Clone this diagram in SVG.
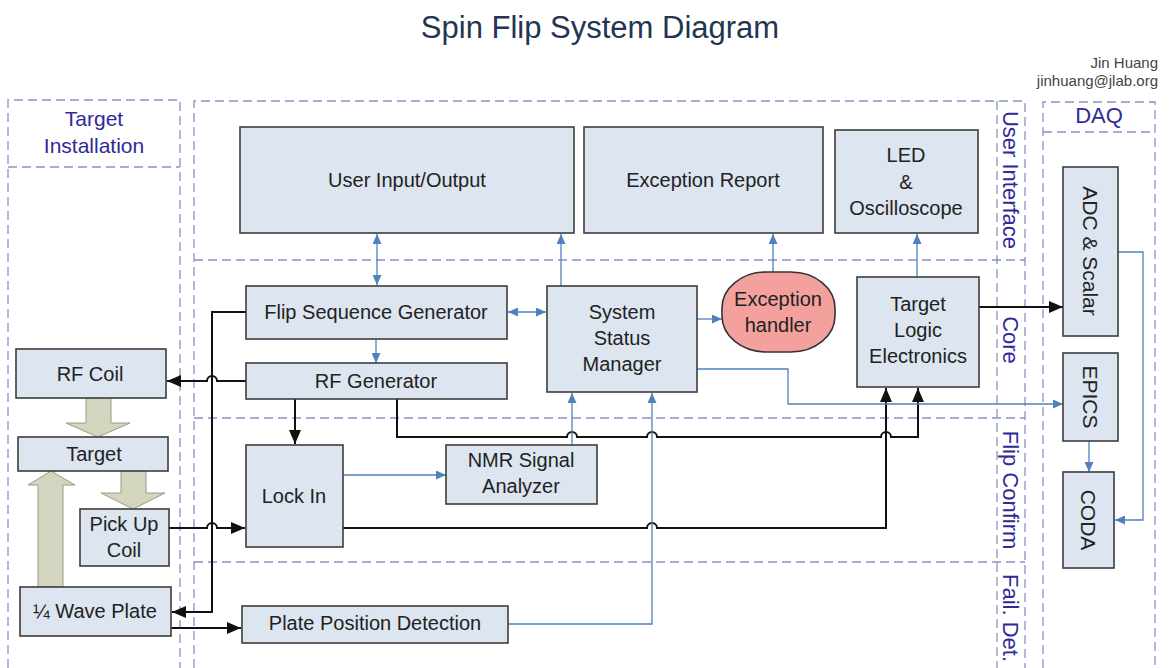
<svg xmlns="http://www.w3.org/2000/svg" width="1169" height="668" viewBox="0 0 1169 668">
<style>
text{font-family:"Liberation Sans",Arial,sans-serif;}
.t{font-size:20px;fill:#222;text-anchor:middle;}
.lbl{font-size:22px;fill:#2f2a9a;text-anchor:middle;}
.box{fill:#dde5f0;stroke:#3c3c3c;stroke-width:1.6;}
.dash{fill:none;stroke:#8594c2;stroke-width:1.3;stroke-dasharray:9 5;}
.blk{fill:none;stroke:#111;stroke-width:2;}
.blu{fill:none;stroke:#4f81bd;stroke-width:1.3;}
.big{fill:#d4d5bf;stroke:#9a9a8a;stroke-width:1;}
</style>
<defs>
<marker id="ab" markerUnits="userSpaceOnUse" markerWidth="16" markerHeight="12" refX="14" refY="6" orient="auto"><path d="M0,0 L14,6 L0,12 z" fill="#111"/></marker>
<marker id="bb" markerUnits="userSpaceOnUse" markerWidth="11" markerHeight="9" refX="10" refY="4.5" orient="auto-start-reverse"><path d="M0,0 L10,4.5 L0,9 z" fill="#4f81bd"/></marker>
</defs>
<rect width="1169" height="668" fill="#fff"/>
<g id="title">
<text x="600" y="38" style="font-size:31px;fill:#233552;text-anchor:middle">Spin Flip System Diagram</text>
<text x="1158" y="68" style="font-size:15px;fill:#444;text-anchor:end">Jin Huang</text>
<text x="1158" y="86" style="font-size:15px;fill:#444;text-anchor:end">jinhuang@jlab.org</text>
</g>
<g id="panels">
<path class="dash" d="M8,668 V100 H180 V668 M8,167 H180"/>
<path class="dash" d="M194,668 V101 H1025 V668 M997,101 V668 M194,260 H1025 M194,418 H1025 M194,562 H1025"/>
<path class="dash" d="M1043,668 V102 H1155 V668 M1043,132 H1155"/>
<text class="lbl" x="94" y="126" style="font-size:21px">Target</text>
<text class="lbl" x="94" y="153" style="font-size:21px">Installation</text>
<text class="lbl" x="1099" y="123">DAQ</text>
<text class="lbl" transform="translate(1003,180) rotate(90)">User Interface</text>
<text class="lbl" transform="translate(1003,340) rotate(90)">Core</text>
<text class="lbl" transform="translate(1003,490) rotate(90)">Flip Confirm</text>
<text class="lbl" transform="translate(1003,618) rotate(90)">Fail. Det.</text>
</g>
<g id="blockarrows">
<path class="big" d="M86,398 H111 V423 H130 L98,437 L66,423 H86 Z"/>
<path class="big" d="M121,471 H146 V493 H165 L133,509 L101,493 H121 Z"/>
<path class="big" d="M38,587 V485 H28 L51,471 L75,485 H63 V587 Z"/>
</g>
<g id="connectors">
<path class="blk" d="M246,312 H212 V612 H172" marker-end="url(#ab)"/>
<path class="blk" d="M246,381 H217 A5,5 0 0 0 207,381 H167" marker-end="url(#ab)"/>
<path class="blk" d="M169,528 H207 A5,5 0 0 1 217,528 H245" marker-end="url(#ab)"/>
<path class="blk" d="M171,628 H241" marker-end="url(#ab)"/>
<path class="blk" d="M295,399 V444" marker-end="url(#ab)"/>
<path class="blk" d="M397,399 V437 H567 A5,5 0 0 1 577,437 H647 A5,5 0 0 1 657,437 H881 A5,5 0 0 1 891,437 H918 V388" marker-end="url(#ab)"/>
<path class="blk" d="M343,528 H647 A5,5 0 0 1 657,528 H886 V388" marker-end="url(#ab)"/>
<path class="blk" d="M979,307 H1063" marker-end="url(#ab)"/>
<path class="blu" d="M377,234 V285" marker-start="url(#bb)" marker-end="url(#bb)"/>
<path class="blu" d="M561,286 V234" marker-end="url(#bb)"/>
<path class="blu" d="M773,272 V234" marker-end="url(#bb)"/>
<path class="blu" d="M917,277 V234" marker-end="url(#bb)"/>
<path class="blu" d="M508,312 H546" marker-start="url(#bb)" marker-end="url(#bb)"/>
<path class="blu" d="M376,340 V363" marker-end="url(#bb)"/>
<path class="blu" d="M697,319 H722" marker-end="url(#bb)"/>
<path class="blu" d="M697,369 H788 V404 H1063" marker-end="url(#bb)"/>
<path class="blu" d="M572,445 V393" marker-end="url(#bb)"/>
<path class="blu" d="M508,624 H652 V393" marker-end="url(#bb)"/>
<path class="blu" d="M343,475 H446" marker-end="url(#bb)"/>
<path class="blu" d="M1089,441 V472" marker-end="url(#bb)"/>
<path class="blu" d="M1118,252 H1143 V520 H1115" marker-end="url(#bb)"/>
</g>
<g id="user-io"><rect class="box" x="240" y="127" width="334" height="106"/><text class="t" x="407" y="187">User Input/Output</text></g>
<g id="exception-report"><rect class="box" x="584" y="127" width="239" height="106"/><text class="t" x="703" y="187">Exception Report</text></g>
<g id="led"><rect class="box" x="835" y="130" width="143" height="103"/><text class="t" x="906" y="162">LED</text><text class="t" x="906" y="189">&amp;</text><text class="t" x="906" y="215">Oscilloscope</text></g>
<g id="flip-seq"><rect class="box" x="246" y="286" width="261" height="53"/><text class="t" x="376" y="319">Flip Sequence Generator</text></g>
<g id="rf-gen"><rect class="box" x="246" y="363" width="261" height="36"/><text class="t" x="376" y="388">RF Generator</text></g>
<g id="ssm"><rect class="box" x="547" y="286" width="150" height="106"/><text class="t" x="622" y="319">System</text><text class="t" x="622" y="345">Status</text><text class="t" x="622" y="371">Manager</text></g>
<g id="exception-handler"><rect x="722" y="272" width="113" height="80" rx="44" ry="36" fill="#f4a19d" stroke="#333" stroke-width="1.6"/><text class="t" x="778" y="306">Exception</text><text class="t" x="778" y="332">handler</text></g>
<g id="target-logic"><rect class="box" x="857" y="277" width="122" height="110"/><text class="t" x="918" y="311">Target</text><text class="t" x="918" y="337">Logic</text><text class="t" x="918" y="363">Electronics</text></g>
<g id="rf-coil"><rect class="box" x="16" y="349" width="150" height="49"/><text class="t" x="90" y="381">RF Coil</text></g>
<g id="target"><rect class="box" x="18" y="437" width="150" height="34"/><text class="t" x="94" y="461">Target</text></g>
<g id="pickup"><rect class="box" x="80" y="509" width="89" height="57"/><text class="t" x="124" y="531">Pick Up</text><text class="t" x="124" y="557">Coil</text></g>
<g id="waveplate"><rect class="box" x="20" y="587" width="151" height="49"/><text class="t" x="95" y="618">¼ Wave Plate</text></g>
<g id="lockin"><rect class="box" x="246" y="445" width="97" height="102"/><text class="t" x="294" y="503">Lock In</text></g>
<g id="nmr"><rect class="box" x="446" y="445" width="151" height="59"/><text class="t" x="521" y="467">NMR Signal</text><text class="t" x="521" y="493">Analyzer</text></g>
<g id="plate-pos"><rect class="box" x="242" y="606" width="266" height="37"/><text class="t" x="375" y="630">Plate Position Detection</text></g>
<g id="adc"><rect class="box" x="1063" y="167" width="55" height="169"/><text class="t" style="font-size:21px" transform="translate(1083,251) rotate(90)">ADC &amp; Scalar</text></g>
<g id="epics"><rect class="box" x="1063" y="353" width="55" height="88"/><text class="t" style="font-size:21px" transform="translate(1083,397) rotate(90)">EPICS</text></g>
<g id="coda"><rect class="box" x="1063" y="472" width="51" height="96"/><text class="t" style="font-size:21px" transform="translate(1081,520) rotate(90)">CODA</text></g>
</svg>
